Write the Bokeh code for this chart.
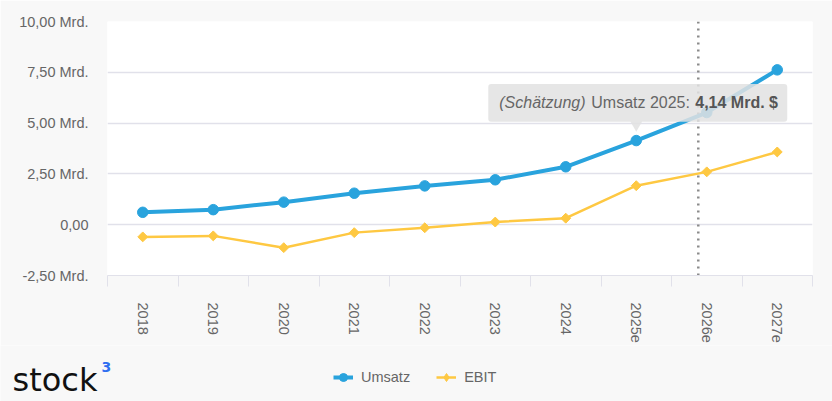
import math
from bokeh.plotting import figure
from bokeh.layouts import column, row
from bokeh.models import FixedTicker, Span, BoxAnnotation, Legend, LegendItem, Label
from bokeh.core.properties import value
from bokeh.embed import file_html
from bokeh.resources import INLINE

# ---- data ----
years = ["2018", "2019", "2020", "2021", "2022", "2023", "2024", "2025e", "2026e", "2027e"]
umsatz = [0.61, 0.74, 1.11, 1.55, 1.91, 2.21, 2.85, 4.14, 5.52, 7.62]
ebit = [-0.60, -0.55, -1.13, -0.39, -0.15, 0.13, 0.32, 1.92, 2.60, 3.58]
y_ticks = [-2.5, 0, 2.5, 5, 7.5, 10]
y_tick_labels = ["-2,50 Mrd.", "0,00", "2,50 Mrd.", "5,00 Mrd.", "7,50 Mrd.", "10,00 Mrd."]
series_names = ["Umsatz", "EBIT"]
today_pos = 8.38      # dotted "today" marker, in category units
highlight = 7         # index of the point with the tooltip

# ---- style ----
BLUE = "#29a3dd"
YELLOW = "#fec842"
TXT = "#666666"
GRID = "#e1e1ea"
BG = "#f8f8f8"
FONT = "Liberation Sans"

W, H1, H2 = 832, 345, 56
BL, BR, BT = 107, 20, 21
FW, FH = W - BL - BR, 256
BB = H1 - BT - FH
X0, X1 = 0, len(years)
Y0, Y1 = y_ticks[0], y_ticks[-1]
PX_X = FW / (X1 - X0)
PX_Y = FH / (Y1 - Y0)

xs = [i + 0.5 for i in range(len(years))]

p = figure(width=W, height=H1, x_range=(X0, X1), y_range=(Y0, Y1),
           output_backend="svg", toolbar_location=None,
           min_border_left=BL, min_border_right=BR, min_border_top=BT, min_border_bottom=BB)
p.background_fill_color = "white"
p.border_fill_color = BG
p.outline_line_color = None

# axes
p.xaxis.ticker = FixedTicker(ticks=xs, minor_ticks=list(range(X0, X1 + 1)))
p.xaxis.major_label_overrides = {x: y for x, y in zip(xs, years)}
p.xaxis.major_label_orientation = -math.pi / 2
p.xaxis.major_tick_out = 0
p.xaxis.major_tick_in = 0
p.xaxis.minor_tick_out = 11
p.xaxis.minor_tick_in = 0
p.xaxis.minor_tick_line_color = GRID
p.xaxis.axis_line_color = GRID
p.xaxis.major_label_standoff = 16
p.xaxis.major_label_text_font = FONT
p.xaxis.major_label_text_font_size = "14.5px"
p.xaxis.major_label_text_color = TXT

p.yaxis.ticker = FixedTicker(ticks=y_ticks)
p.yaxis.major_label_overrides = {t: l for t, l in zip(y_ticks, y_tick_labels)}
p.yaxis.axis_line_color = None
p.yaxis.major_tick_line_color = None
p.yaxis.minor_tick_line_color = None
p.yaxis.major_tick_out = 0
p.yaxis.major_label_standoff = 19
p.yaxis.major_label_text_font = FONT
p.yaxis.major_label_text_font_size = "14.5px"
p.yaxis.major_label_text_color = TXT

p.xgrid.grid_line_color = None
p.ygrid.grid_line_color = GRID
p.ygrid.grid_line_width = 1.3

# today marker
p.add_layout(Span(location=today_pos, dimension="height", line_color="#8a8a8a",
                  line_dash="2 5", line_width=2.5, level="underlay"))

# series
p.line(xs, umsatz, line_color=BLUE, line_width=4)
p.scatter(xs, umsatz, marker="circle", size=10.5, fill_color=BLUE, line_color=BLUE)
p.line(xs, ebit, line_color=YELLOW, line_width=2.5)
p.scatter(xs, ebit, marker="square", angle=math.pi / 4, size=7,
          fill_color=YELLOW, line_color=YELLOW)

# tooltip
hx, hy = xs[highlight], umsatz[highlight]
p.add_layout(BoxAnnotation(left=hx - 148 / PX_X, right=hx + 151 / PX_X,
                           bottom=hy + 19 / PX_Y, top=hy + 57 / PX_Y,
                           fill_color="#e2e2e2", fill_alpha=0.85,
                           line_color=None, border_radius=3))
p.scatter([hx], [hy + 16 / PX_Y], marker="inverted_triangle", size=12,
          fill_color="#e2e2e2", fill_alpha=0.85, line_color=None, level="annotation")
val_txt = f"{umsatz[highlight]:.2f}".replace(".", ",") + " Mrd. $"
ty = hy + 38 / PX_Y
p.text([hx], [ty], text=["(Schätzung)"], x_offset=-137, text_baseline="middle",
       text_font=value(FONT), text_font_size="16px", text_font_style="italic",
       text_color=TXT, level="overlay")
p.text([hx], [ty], text=[f"{series_names[0]} {years[highlight][:4]}:"], x_offset=-45,
       text_baseline="middle", text_font=value(FONT), text_font_size="16px",
       text_color=TXT, level="overlay")
p.text([hx], [ty], text=[val_txt], x_offset=59, text_baseline="middle",
       text_font=value(FONT), text_font_size="16px", text_font_style="bold",
       text_color="#555555", level="overlay")

# ---- bottom strip: legend + logo ----
# the strip's x range lies outside the series' x values, so the legend proxies
# (drawn from the same data) are not visible themselves
p2 = figure(width=W, height=H2, x_range=(100, 100 + W), y_range=(0, H2),
            output_backend="svg", toolbar_location=None,
            x_axis_type=None, y_axis_type=None,
            min_border_left=0, min_border_right=0, min_border_top=0, min_border_bottom=0)
p2.background_fill_color = BG
p2.border_fill_color = BG
p2.outline_line_color = None

k1 = p2.line(xs, umsatz, line_color=BLUE, line_width=4)
m1 = p2.scatter(xs, umsatz, marker="circle", size=10.5, fill_color=BLUE, line_color=BLUE)
k2 = p2.line(xs, ebit, line_color=YELLOW, line_width=2.5)
m2 = p2.scatter(xs, ebit, marker="diamond", size=11,
                fill_color=YELLOW, line_color=YELLOW)
legend = Legend(items=[LegendItem(label=series_names[0], renderers=[k1, m1]),
                       LegendItem(label=series_names[1], renderers=[k2, m2])],
                location=(333, 14), orientation="horizontal",
                padding=0, margin=0, spacing=26, glyph_width=20, glyph_height=20,
                label_standoff=8, label_height=20,
                label_text_font=FONT, label_text_font_size="14.5px",
                label_text_color=TXT, background_fill_alpha=0, border_line_color=None)
p2.add_layout(legend)

p2.add_layout(Label(x=12, y=22, x_units="screen", y_units="screen", text="stock",
                    text_font="DejaVu Sans", text_font_size="32px", text_color="#111111",
                    text_baseline="alphabetic"))
p2.add_layout(Label(x=101, y=35, x_units="screen", y_units="screen", text="3",
                    text_font="DejaVu Sans", text_font_size="14px", text_font_style="bold",
                    text_color="#2f6ef0", text_baseline="alphabetic"))

open("out.html", "w").write(file_html(column(p, row(p2), spacing=0), INLINE))
